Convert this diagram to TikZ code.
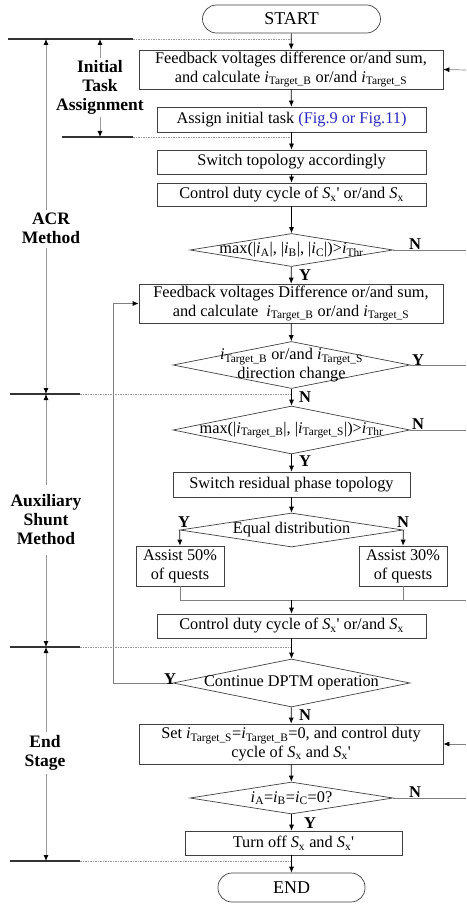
\documentclass[tikz,border=0pt]{standalone}
\usepackage{fontspec}
\setmainfont{Liberation Serif}
\usetikzlibrary{shapes.geometric,arrows.meta}
\newcommand{\fs}{\fontsize{16.3}{18.8}\selectfont}
\newcommand{\ii}[1]{\textit{i}\textsubscript{#1}}
\newcommand{\Sx}{\textit{S}\textsubscript{x}}
\newcommand{\pr}{\textquotesingle}
\definecolor{figblue}{RGB}{40,40,190}
\begin{document}
\begin{tikzpicture}[x=1pt,y=-1pt,
  box/.style={draw=black!75, line width=0.7pt, inner sep=0pt, align=center, font=\fs},
  term/.style={box, rounded corners=14pt},
  dec/.style={draw=black!75, line width=0.7pt, diamond, inner sep=0pt},
  dtext/.style={align=center, font=\fs, inner sep=0pt},
  flow/.style={-{Latex[length=6pt,width=5pt]}, line width=0.7pt, black},
  side/.style={line width=0.7pt, black!50},
  sidearr/.style={side, -{Latex[length=6pt,width=5pt,color=black]}},
  yn/.style={font=\fontsize{16.5}{19}\selectfont\bfseries, inner sep=0pt},
  band/.style={line width=1.2pt, black!80},
  dots/.style={line width=0.7pt, black!40, dash pattern=on 1.5pt off 1pt},
  ann/.style={line width=0.9pt, black!40, -{Latex[length=6pt,width=5pt,color=black]}},
  lab/.style={font=\fontsize{17.5}{19}\selectfont\bfseries, align=center, inner sep=0pt}]
\useasboundingbox (0,0) rectangle (466,904);

% ---- left stage bands (dotted lines first, behind the flow) ----
\coordinate (h1l) at (8,39);   \coordinate (h1m) at (133,39);  \coordinate (h1r) at (291.5,39);
\coordinate (h2l) at (62,137); \coordinate (h2m) at (133,137); \coordinate (h2r) at (291.5,137);
\coordinate (h3l) at (10,394); \coordinate (h3m) at (80,394);  \coordinate (h3r) at (291.5,394);
\coordinate (h4l) at (10,647); \coordinate (h4m) at (80,647);  \coordinate (h4r) at (291.5,647);
\coordinate (h5l) at (10,861); \coordinate (h5m) at (80,861);  \coordinate (h5r) at (291.5,861);
\draw[dots] (h1m) -- (h1r); \draw[band] (h1l) -- (h1m);
\draw[dots] (h2m) -- (h2r); \draw[band] (h2l) -- (h2m);
\draw[dots] (h3m) -- (h3r); \draw[band] (h3l) -- (h3m);
\draw[dots] (h4m) -- (h4r); \draw[band] (h4l) -- (h4m);
\draw[dots] (h5m) -- (h5r); \draw[band] (h5l) -- (h5m);

% ---- stage labels ----
\node[lab] (ita) at (100,87) {Initial\\Task\\Assignment};
\node[lab] (acr) at (51,228) {ACR\\Method};
\node[lab] (asm) at (46,520) {Auxiliary\\Shunt\\Method};
\node[lab] (est) at (45,753) {End\\Stage};

% ---- stage arrows ----
\coordinate (a1t) at (46,39);  \coordinate (a1b) at (46,210);
\coordinate (a2t) at (46,248); \coordinate (a2b) at (46,394);
\coordinate (a3t) at (46,485); \coordinate (a4t) at (46,555);
\coordinate (a4b) at (46,647); \coordinate (a5t) at (46,732);
\coordinate (a6t) at (46,774); \coordinate (a6b) at (46,861);
\coordinate (i1t) at (100,39); \coordinate (i1b) at (100,58);
\coordinate (i2t) at (100,117);\coordinate (i2b) at (100,137);
\draw[ann] (a1b) -- (a1t);
\draw[ann] (a2t) -- (a2b);
\draw[ann] (a3t) -- (a2b);
\draw[ann] (a4t) -- (a4b);
\draw[ann] (a5t) -- (a4b);
\draw[ann] (a6t) -- (a6b);
\draw[ann] (i1b) -- (i1t);
\draw[ann] (i2t) -- (i2b);

% ---- flow nodes ----
\node[term, minimum width=178, minimum height=28, font=\fontsize{18}{20}\selectfont] (start) at (291.5,19) {START};
\node[box, minimum width=304, minimum height=39] (b1) at (291,69.5)
  {Feedback voltages difference or/and sum,\\and calculate \ii{Target\_B} or/and \ii{Target\_S}};
\node[box, minimum width=269, minimum height=25] (b2) at (291.5,119.5)
  {Assign initial task \textcolor{figblue}{(Fig.9 or Fig.11)}};
\node[box, minimum width=269, minimum height=24] (b3) at (291.5,162) {Switch topology accordingly};
\node[box, minimum width=269, minimum height=23] (b4) at (291.5,194.5) {Control duty cycle of \Sx\pr{} or/and \Sx};
\node[dec, minimum width=203, minimum height=33] (d1) at (291.5,250) {};
\node[dtext] at (d1) {max(|\ii{A}|, |\ii{B}|, |\ii{C}|)>\ii{Thr}};
\node[box, minimum width=304, minimum height=39] (b5) at (291,303.5)
  {Feedback voltages Difference or/and sum,\\and calculate \ \ii{Target\_B} or/and \ii{Target\_S}};
\node[dec, minimum width=237, minimum height=47] (d2) at (291.5,365) {};
\node[dtext] at (d2) {\ii{Target\_B} or/and \ii{Target\_S}\\direction change};
\node[dec, minimum width=237, minimum height=48] (d3) at (291.5,430) {};
\node[dtext] at (d3) {max(|\ii{Target\_B}|, |\ii{Target\_S}|)>\ii{Thr}};
\node[box, minimum width=237, minimum height=25] (b6) at (291.5,484.5) {Switch residual phase topology};
\node[dec, minimum width=223, minimum height=34] (d4) at (291.5,530) {};
\node[dtext] at (d4) {Equal distribution};
\node[box, minimum width=88, minimum height=40] (a50) at (180,566) {Assist 50\%\\of quests};
\node[box, minimum width=88, minimum height=40] (a30) at (403,566) {Assist 30\%\\of quests};
\node[box, minimum width=269, minimum height=24] (b7) at (291.5,626) {Control duty cycle of \Sx\pr{} or/and \Sx};
\node[dec, minimum width=237, minimum height=48] (d5) at (291.5,683) {};
\node[dtext] at (d5) {Continue DPTM operation};
\node[box, minimum width=304, minimum height=40] (b8) at (291,744)
  {Set \ii{Target\_S}=\ii{Target\_B}=0, and control duty\\cycle of \Sx{} and \Sx\pr};
\node[dec, minimum width=203, minimum height=32] (d6) at (291.5,798) {};
\node[dtext] at (d6) {\ii{A}=\ii{B}=\ii{C}=0?};
\node[box, minimum width=217, minimum height=24] (b9) at (293.5,843) {Turn off \Sx{} and \Sx\pr};
\node[term, minimum width=147, minimum height=29, font=\fontsize{18}{20}\selectfont] (end) at (291.5,887.5) {END};

% ---- flow connectors ----
\draw[flow] (start) -- (b1);
\draw[flow] (b1) -- (b2);
\draw[flow] (b2) -- (b3);
\draw[flow] (b3) -- (b4);
\draw[flow] (b4) -- (d1);
\draw[flow] (d1) -- (b5);
\draw[flow] (b5) -- (d2);
\draw[flow] (d2) -- (d3);
\draw[flow] (d3) -- (b6);
\draw[flow] (b6) -- (d4);
\draw[flow] (d4.west) -- (a50.north);
\draw[flow] (d4.east) -- (a30.north);
\coordinate (m1) at (180,600); \coordinate (m2) at (403,600);
\coordinate (m0) at (291.5,600); \coordinate (mr) at (466,600);
\draw[side] (a50.south) -- (m1) -- (mr);
\draw[side] (a30.south) -- (m2);
\draw[flow] (m0) -- (b7);
\draw[flow] (b7) -- (d5);
\draw[flow] (d5) -- (b8);
\coordinate (lp) at (113,683);
\draw[sidearr] (d5.west) -- (lp) |- (b5.west);
\draw[flow] (b8) -- (d6);
\draw[flow] (d6.south) -- (d6.south |- b9.north);
\draw[flow] (d6.south |- b9.south) -- (end);

% ---- lines leaving to the right edge ----
\coordinate (r1) at (466,70);  \coordinate (r2) at (466,250);
\coordinate (r3) at (466,365); \coordinate (r4) at (466,430);
\coordinate (r5) at (466,744); \coordinate (r6) at (466,798);
\draw[sidearr] (r1) -- (b1.east);
\draw[side] (d1.east) -- (r2);
\draw[side] (d2.east) -- (r3);
\draw[side] (d3.east) -- (r4);
\draw[sidearr] (r5) -- (b8.east);
\draw[side] (d6.east) -- (r6);

% ---- Y / N labels ----
\node[yn] (n1) at (415,244) {N};
\node[yn] (y1) at (305,275) {Y};
\node[yn] (y2) at (418,360) {Y};
\node[yn] (n2) at (305,397) {N};
\node[yn] (n3) at (418,424) {N};
\node[yn] (y3) at (305,461) {Y};
\node[yn] (y4) at (184,522) {Y};
\node[yn] (n4) at (403,522) {N};
\node[yn] (y5) at (170,679) {Y};
\node[yn] (n5) at (305,715) {N};
\node[yn] (n6) at (415,792) {N};
\node[yn] (y6) at (310,823) {Y};
\end{tikzpicture}
\end{document}
